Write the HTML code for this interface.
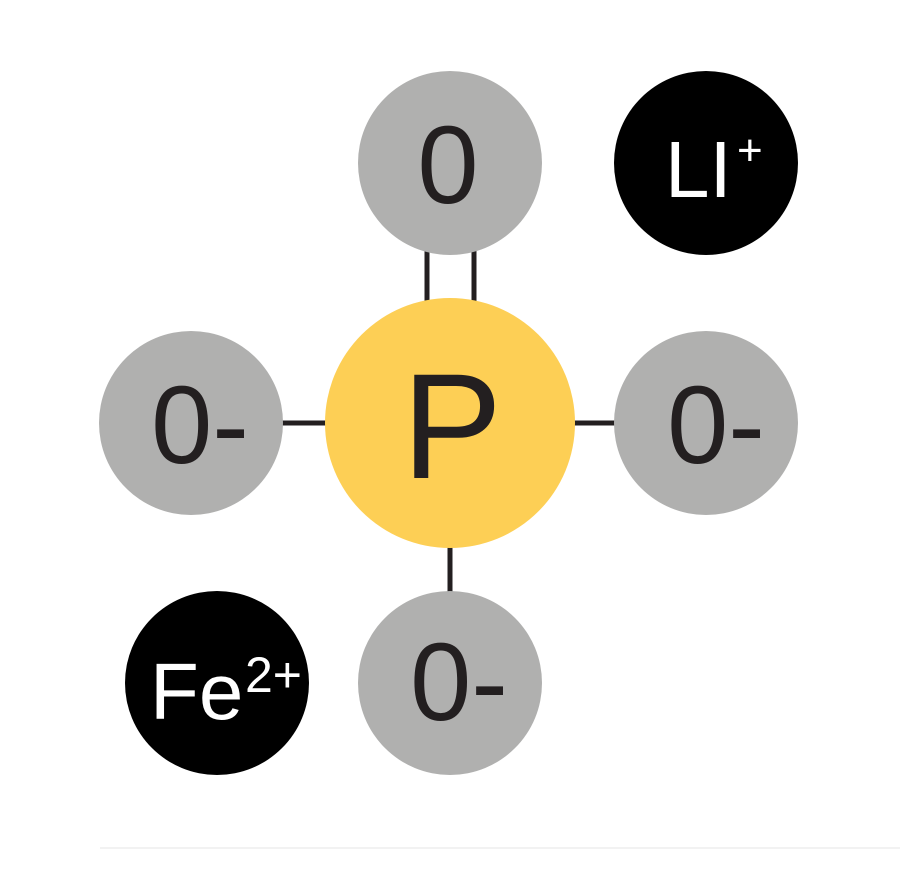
<!DOCTYPE html>
<html><head><style>html,body{margin:0;padding:0;background:#fff;width:900px;height:878px;overflow:hidden}</style></head>
<body>
<svg width="900" height="878" viewBox="0 0 900 878" xmlns="http://www.w3.org/2000/svg" font-family="Liberation Sans, sans-serif">
<line x1="100" y1="848" x2="900" y2="848" stroke="#f2f2f2" stroke-width="2"/>
<g stroke="#231f20" stroke-width="5">
<line x1="427" y1="250" x2="427" y2="302"/>
<line x1="474" y1="250" x2="474" y2="302"/>
<line x1="282" y1="423" x2="330" y2="423"/>
<line x1="572" y1="423" x2="616" y2="423"/>
<line x1="450" y1="545" x2="450" y2="594"/>
</g>
<circle cx="450" cy="163" r="92" fill="#b0b0af"/>
<circle cx="706" cy="163" r="92" fill="#000"/>
<circle cx="191" cy="423" r="92" fill="#b0b0af"/>
<circle cx="706" cy="423" r="92" fill="#b0b0af"/>
<circle cx="450" cy="683" r="92" fill="#b0b0af"/>
<circle cx="217" cy="683" r="92" fill="#000"/>
<circle cx="450" cy="423" r="125" fill="#fdcf55"/>
<g fill="#231f20" font-size="110" text-anchor="middle">
<text x="448" y="203">0</text>
<text x="200" y="463">0-</text>
<text x="716" y="463">0-</text>
<text x="459" y="720">0-</text>
<text x="452" y="478" font-size="150">P</text>
</g>
<g fill="#fff">
<text x="665" y="197" font-size="80">LI</text>
<text x="737" y="165" font-size="44">+</text>
<text x="150" y="719" font-size="80">Fe</text>
<text x="245" y="692" font-size="50">2+</text>
</g>
</svg>
</body></html>
